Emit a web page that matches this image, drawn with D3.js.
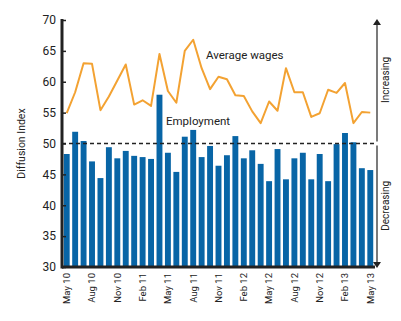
<!DOCTYPE html>
<html>
<head>
<meta charset="utf-8">
<script src="https://cdn.jsdelivr.net/npm/d3@7"></script>
<style>
  body { margin: 0; background: #fff; }
  svg text { font-family: Roboto, "Liberation Sans", sans-serif; fill: #222; }
</style>
</head>
<body>
<svg id="chart" width="401" height="321"></svg>
<script>
  // monthly categories, May 2010 to May 2013
  const months = ["May 10","Jun 10","Jul 10","Aug 10","Sep 10","Oct 10","Nov 10","Dec 10","Jan 11","Feb 11",
    "Mar 11","Apr 11","May 11","Jun 11","Jul 11","Aug 11","Sep 11","Oct 11","Nov 11","Dec 11","Jan 12",
    "Feb 12","Mar 12","Apr 12","May 12","Jun 12","Jul 12","Aug 12","Sep 12","Oct 12","Nov 12","Dec 12",
    "Jan 13","Feb 13","Mar 13","Apr 13","May 13"];
  const employment = [48.3,51.9,50.4,47.1,44.4,49.4,47.6,48.8,48.0,47.8,47.5,57.9,48.5,45.4,51.1,52.2,47.8,49.6,
    46.4,48.1,51.2,47.6,48.9,46.7,43.9,49.1,44.2,47.6,48.5,44.2,48.3,43.9,49.9,51.7,50.2,46.0,45.7];
  const wages = [54.9,58.3,63.0,62.9,55.4,57.6,60.2,62.8,56.3,57.0,56.1,64.5,58.5,56.6,65.0,66.8,62.2,58.8,
    60.8,60.4,57.8,57.7,55.2,53.3,56.8,55.3,62.2,58.3,58.3,54.3,54.9,58.7,58.2,59.8,53.3,55.1,55.0];
  const tickLabels = ["May 10","Aug 10","Nov 10","Feb 11","May 11","Aug 11","Nov 11","Feb 12","May 12","Aug 12","Nov 12","Feb 13","May 13"];
  const yTicks = [30,35,40,45,50,55,60,65,70];

  const svg = d3.select("#chart");
  const mLeft = 62, mRight = 375, mTop = 20, mBottom = 267;

  const x = d3.scaleBand().domain(months).range([mLeft + 0.5, mRight - 0.5])
    .paddingInner(0.3).paddingOuter(0.15);
  const y = d3.scaleLinear().domain([30, 70]).range([mBottom, mTop]);

  // bars
  svg.append("g").selectAll("rect").data(months).join("rect")
    .attr("x", d => x(d))
    .attr("width", x.bandwidth())
    .attr("y", (d, i) => y(employment[i]))
    .attr("height", (d, i) => y(30) - y(employment[i]))
    .attr("fill", "#0865a6");

  // 50 reference line
  svg.append("line")
    .attr("x1", mLeft).attr("x2", mRight)
    .attr("y1", y(50)).attr("y2", y(50))
    .attr("stroke", "#222").attr("stroke-width", 1.4)
    .attr("stroke-dasharray", "4,3");

  // wages line
  const line = d3.line()
    .x((d, i) => x(months[i]) + x.bandwidth() / 2)
    .y(d => y(d));
  svg.append("path").datum(wages)
    .attr("d", line)
    .attr("fill", "none")
    .attr("stroke", "#f3a232")
    .attr("stroke-width", 2)
    .attr("stroke-linejoin", "round");

  // y axis
  const yAxis = svg.append("g").attr("transform", `translate(${mLeft},0)`)
    .call(d3.axisLeft(y).tickValues(yTicks).tickSize(-4).tickPadding(6));
  yAxis.select(".domain").remove();
  yAxis.selectAll(".tick line").attr("stroke", "#222").attr("stroke-width", 1.5);
  yAxis.selectAll("text").style("font-size", "12px").attr("fill", "#222");
  svg.append("line").attr("x1", mLeft).attr("x2", mLeft).attr("y1", mTop - 1).attr("y2", mBottom + 1.5)
    .attr("stroke", "#222").attr("stroke-width", 3);

  // x axis
  const xAxis = svg.append("g").attr("transform", `translate(0,${mBottom})`)
    .call(d3.axisBottom(x).tickValues(tickLabels).tickSize(0));
  xAxis.select(".domain").remove();
  xAxis.selectAll("text")
    .style("font-size", "9.5px")
    .attr("transform", "rotate(-90)")
    .attr("text-anchor", "end")
    .attr("x", -6).attr("y", 0).attr("dy", "0.35em");
  svg.append("line").attr("x1", mLeft).attr("x2", mRight).attr("y1", mBottom).attr("y2", mBottom)
    .attr("stroke", "#222").attr("stroke-width", 3);

  // axis title
  svg.append("text")
    .attr("transform", `translate(21,${(mTop + mBottom) / 2}) rotate(-90)`)
    .attr("text-anchor", "middle")
    .attr("dy", "0.35em")
    .style("font-size", "10.5px")
    .text("Diffusion Index");

  // right side arrows
  const ax = 377;
  svg.append("line").attr("x1", ax).attr("x2", ax).attr("y1", y(50) - 2).attr("y2", mTop + 4)
    .attr("stroke", "#222").attr("stroke-width", 1.2);
  svg.append("path").attr("d", `M${ax - 4},${mTop + 5}L${ax},${mTop - 1}L${ax + 4},${mTop + 5}Z`).attr("fill", "#222");
  svg.append("line").attr("x1", ax).attr("x2", ax).attr("y1", y(50) + 2).attr("y2", mBottom - 4)
    .attr("stroke", "#222").attr("stroke-width", 1.2);
  svg.append("path").attr("d", `M${ax - 4},${mBottom - 5}L${ax},${mBottom + 1}L${ax + 4},${mBottom - 5}Z`).attr("fill", "#222");

  svg.append("text")
    .attr("transform", `translate(385,${y(60.3)}) rotate(-90)`)
    .attr("text-anchor", "middle").attr("dy", "0.35em")
    .style("font-size", "10px").text("Increasing");
  svg.append("text")
    .attr("transform", `translate(385,${y(39.9)}) rotate(-90)`)
    .attr("text-anchor", "middle").attr("dy", "0.35em")
    .style("font-size", "10px").text("Decreasing");

  // series labels
  svg.append("text").attr("x", 206).attr("y", 59).style("font-size", "11.5px").text("Average wages");
  svg.append("text").attr("x", 166).attr("y", 125).style("font-size", "11.5px").text("Employment");
</script>
</body>
</html>
